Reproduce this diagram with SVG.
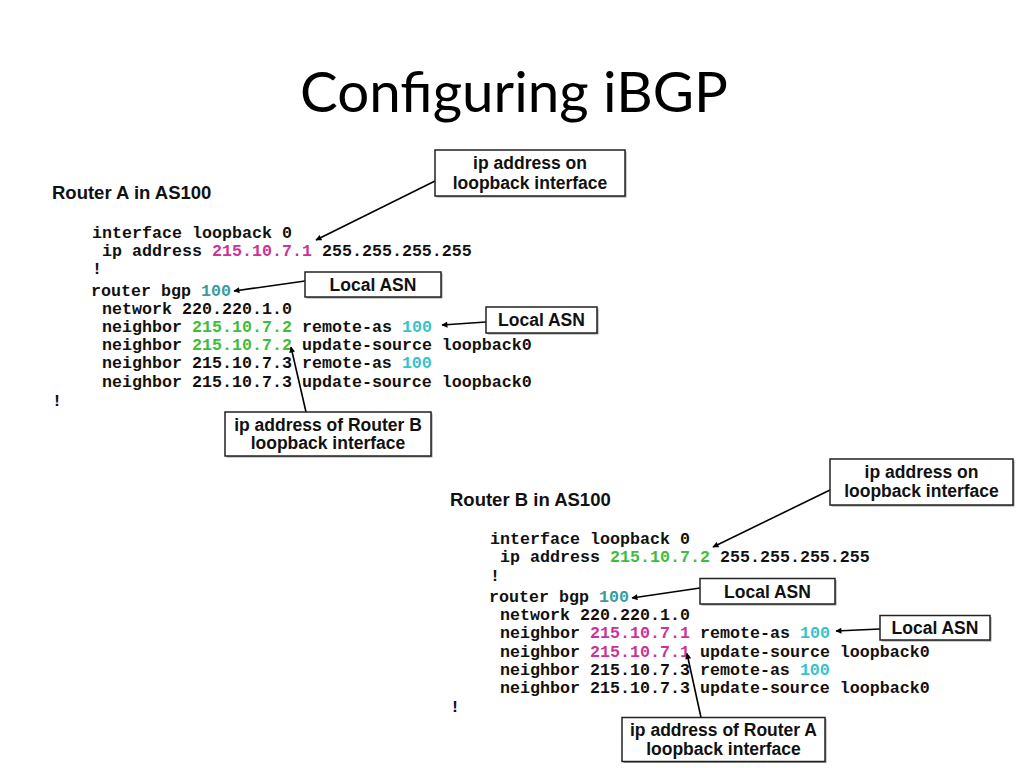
<svg xmlns="http://www.w3.org/2000/svg" width="1024" height="768" viewBox="0 0 1024 768">
<defs>
<style>
.title{font-family:Lato,"Open Sans","Liberation Sans",sans-serif;font-size:56px;fill:#000}
.hdr{font-family:"Liberation Sans",Arial,sans-serif;font-weight:bold;font-size:18.5px;fill:#111}
.code{font-family:"Liberation Mono","Courier New",monospace;font-weight:bold;font-size:16.67px;fill:#111}
.lbl{font-family:"Liberation Sans",Arial,sans-serif;font-weight:bold;font-size:17.5px;fill:#111;text-anchor:middle}
.box{fill:#fff;stroke:#222;stroke-width:1.5}
.shd{fill:#9a9a9a}
.mg{fill:#CC3399}
.gr{fill:#3CBE3C}
.tl{fill:#3A9C9C}
.cy{fill:#33C4CC}
.conn{stroke:#000;stroke-width:1.6;fill:none;marker-end:url(#ah)}
</style>
<marker id="ah" viewBox="0 0 10 10" refX="9" refY="5" markerWidth="8" markerHeight="6" markerUnits="userSpaceOnUse" orient="auto">
<path d="M0,0 L10,5 L0,10 z" fill="#000"/>
</marker>
</defs>
<rect width="1024" height="768" fill="#fff"/>
<text class="title" x="300" y="111.5" textLength="428" lengthAdjust="spacingAndGlyphs">Configuring iBGP</text>

<g id="routerA-config">
<text class="hdr" x="52" y="199">Router A in AS100</text>
<text class="code" x="92" y="237.5">interface loopback 0</text>
<text class="code" x="102" y="255.5">ip address <tspan class="mg">215.10.7.1</tspan> 255.255.255.255</text>
<text class="code" x="92" y="274">!</text>
<text class="code" x="91" y="295.5">router bgp <tspan class="tl">100</tspan></text>
<text class="code" x="102" y="313.5">network 220.220.1.0</text>
<text class="code" x="102" y="331.8">neighbor <tspan class="gr">215.10.7.2</tspan> remote-as <tspan class="cy">100</tspan></text>
<text class="code" x="102" y="350.1">neighbor <tspan class="gr">215.10.7.2</tspan> update-source loopback0</text>
<text class="code" x="102" y="368.4">neighbor 215.10.7.3 remote-as <tspan class="cy">100</tspan></text>
<text class="code" x="102" y="386.7">neighbor 215.10.7.3 update-source loopback0</text>
<text class="code" x="52" y="405.5">!</text>
</g>

<g id="routerB-config">
<text class="hdr" x="450" y="505.5">Router B in AS100</text>
<text class="code" x="490" y="544">interface loopback 0</text>
<text class="code" x="500" y="562">ip address <tspan class="gr">215.10.7.2</tspan> 255.255.255.255</text>
<text class="code" x="490" y="580.5">!</text>
<text class="code" x="489" y="602">router bgp <tspan class="tl">100</tspan></text>
<text class="code" x="500" y="620">network 220.220.1.0</text>
<text class="code" x="500" y="638.3">neighbor <tspan class="mg">215.10.7.1</tspan> remote-as <tspan class="cy">100</tspan></text>
<text class="code" x="500" y="656.6">neighbor <tspan class="mg">215.10.7.1</tspan> update-source loopback0</text>
<text class="code" x="500" y="674.9">neighbor 215.10.7.3 remote-as <tspan class="cy">100</tspan></text>
<text class="code" x="500" y="693.2">neighbor 215.10.7.3 update-source loopback0</text>
<text class="code" x="450" y="712">!</text>
</g>

<g id="connectors">
<line class="conn" x1="435" y1="181" x2="316" y2="240"/>
<line class="conn" x1="305" y1="281" x2="234" y2="291"/>
<line class="conn" x1="486" y1="322" x2="442" y2="325"/>
<line class="conn" x1="306" y1="412" x2="291" y2="347"/>
<line class="conn" x1="830" y1="490" x2="713" y2="547"/>
<line class="conn" x1="700" y1="588" x2="632" y2="598"/>
<line class="conn" x1="880" y1="629" x2="836" y2="631"/>
<line class="conn" x1="701" y1="717.5" x2="687" y2="653.5"/>
</g>

<g id="labelA-loopback">
<rect class="shd" x="436.5" y="151.5" width="190" height="46"/>
<rect class="box" x="435" y="150" width="190" height="46"/>
<text class="lbl" x="530" y="169">ip address on</text>
<text class="lbl" x="530" y="188.5">loopback interface</text>
</g>
<g id="labelA-localasn1">
<rect class="shd" x="306.5" y="273.5" width="136" height="25"/>
<rect class="box" x="305" y="272" width="136" height="25"/>
<text class="lbl" x="373" y="290.5">Local ASN</text>
</g>
<g id="labelA-localasn2">
<rect class="shd" x="487.5" y="308.5" width="111" height="26"/>
<rect class="box" x="486" y="307" width="111" height="26"/>
<text class="lbl" x="541.5" y="326">Local ASN</text>
</g>
<g id="labelA-routerB">
<rect class="shd" x="226.5" y="413.5" width="206" height="44"/>
<rect class="box" x="225" y="412" width="206" height="44"/>
<text class="lbl" x="328" y="430.5">ip address of Router B</text>
<text class="lbl" x="328" y="449">loopback interface</text>
</g>

<g id="labelB-loopback">
<rect class="shd" x="831.5" y="460.5" width="183" height="46"/>
<rect class="box" x="830" y="459" width="183" height="46"/>
<text class="lbl" x="921.5" y="477.5">ip address on</text>
<text class="lbl" x="921.5" y="497">loopback interface</text>
</g>
<g id="labelB-localasn1">
<rect class="shd" x="701.5" y="580" width="135" height="25.5"/>
<rect class="box" x="700" y="578.5" width="135" height="25.5"/>
<text class="lbl" x="767.5" y="597.5">Local ASN</text>
</g>
<g id="labelB-localasn2">
<rect class="shd" x="881.5" y="617" width="110" height="24.5"/>
<rect class="box" x="880" y="615.5" width="110" height="24.5"/>
<text class="lbl" x="935" y="633.5">Local ASN</text>
</g>
<g id="labelB-routerA">
<rect class="shd" x="623.5" y="719" width="203" height="44"/>
<rect class="box" x="622" y="717.5" width="203" height="44"/>
<text class="lbl" x="723.5" y="736">ip address of Router A</text>
<text class="lbl" x="723.5" y="754.5">loopback interface</text>
</g>
</svg>
